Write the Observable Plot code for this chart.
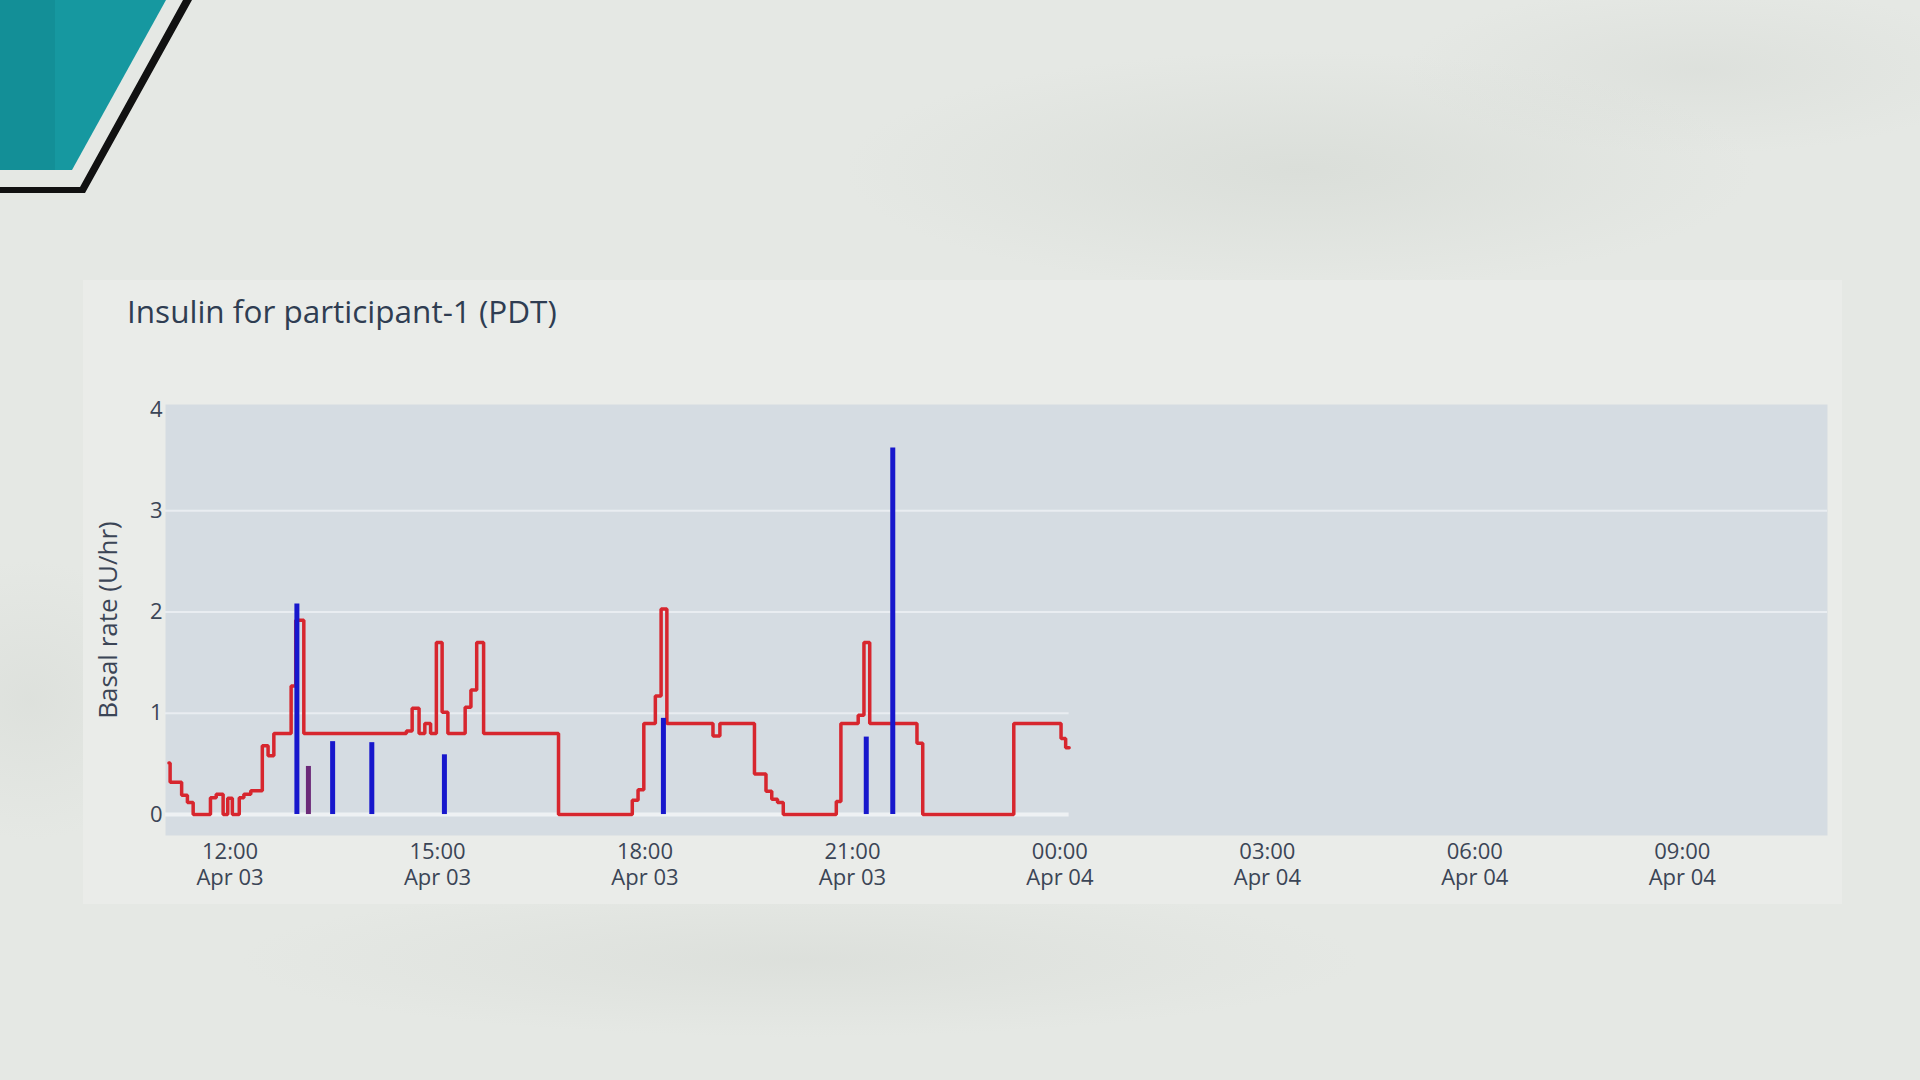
<!DOCTYPE html>
<html>
<head>
<meta charset="utf-8">
<script src="https://cdn.jsdelivr.net/npm/d3@7"></script>
<script src="https://cdn.jsdelivr.net/npm/@observablehq/plot@0.6"></script>
<style>
  html, body { margin: 0; padding: 0; }
  body {
    width: 1920px; height: 1080px; overflow: hidden; position: relative;
    background:
      radial-gradient(ellipse 650px 170px at 1300px 170px, rgba(208,213,207,0.5), rgba(208,213,207,0) 70%),
      radial-gradient(ellipse 420px 120px at 1700px 70px, rgba(212,216,211,0.45), rgba(212,216,211,0) 70%),
      radial-gradient(ellipse 800px 110px at 800px 960px, rgba(210,214,209,0.45), rgba(210,214,209,0) 70%),
      radial-gradient(ellipse 200px 200px at 30px 700px, rgba(212,216,211,0.45), rgba(212,216,211,0) 70%),
      #e5e8e4;
    font-family: "Open Sans", sans-serif;
  }
  .teal { position: absolute; left: 0; top: 0; width: 200px; height: 200px; background: linear-gradient(90deg, #138f97 0 55px, #1698a0 55px);
    clip-path: polygon(0 0, 166px 0, 72px 170px, 0 170px); }
  .band { position: absolute; left: 0; top: 0; width: 200px; height: 200px; background: #111;
    clip-path: polygon(183px 0, 192px 0, 85px 193px, 0 193px, 0 187px, 80px 187px); }
  .card { position: absolute; left: 83px; top: 280px; width: 1759px; height: 624px; background: #eaece9; }
  .title { position: absolute; left: 127px; top: 295px; font-size: 31.5px; line-height: 31.5px; color: #2f3d52; white-space: nowrap; }
  #chart { position: absolute; left: 83px; top: 344px; }
</style>
</head>
<body>
<div class="teal"></div>
<div class="band"></div>
<div class="card"></div>
<div class="title">Insulin for participant-1 (PDT)</div>
<div id="chart"></div>
<script>
// ---- data ----
const basalTimes = [
  "04-03 11:07","04-03 11:08","04-03 11:18","04-03 11:23","04-03 11:28","04-03 11:43","04-03 11:48",
  "04-03 11:54","04-03 11:58","04-03 12:02","04-03 12:08","04-03 12:12","04-03 12:18","04-03 12:28",
  "04-03 12:33","04-03 12:38","04-03 12:53","04-03 12:57","04-03 13:04","04-03 14:33","04-03 14:38",
  "04-03 14:44","04-03 14:49","04-03 14:54","04-03 14:59","04-03 15:04","04-03 15:09","04-03 15:24",
  "04-03 15:29","04-03 15:34","04-03 15:40","04-03 16:45","04-03 17:49","04-03 17:54","04-03 17:59",
  "04-03 18:09","04-03 18:14","04-03 18:19","04-03 18:59","04-03 19:05","04-03 19:35","04-03 19:45",
  "04-03 19:50","04-03 19:55","04-03 20:00","04-03 20:46","04-03 20:50","04-03 21:05","04-03 21:10",
  "04-03 21:15","04-03 21:56","04-03 22:01","04-03 23:20","04-04 00:01","04-04 00:05","04-04 00:08"
];
const basalRates = [
  0.51,0.32,0.19,0.12,0.00,0.165,0.20,
  0.00,0.16,0.00,0.165,0.20,0.235,0.68,
  0.58,0.80,1.27,1.92,0.80,0.825,1.05,
  0.80,0.90,0.80,1.70,1.01,0.80,1.06,
  1.23,1.70,0.80,0.00,0.14,0.245,0.90,
  1.17,2.03,0.90,0.775,0.90,0.40,0.23,
  0.15,0.12,0.00,0.13,0.90,0.98,1.70,
  0.90,0.705,0.00,0.90,0.75,0.66,0.66
];
const bolusTimes = ["04-03 12:58","04-03 13:08","04-03 13:29","04-03 14:03","04-03 15:06","04-03 18:16","04-03 21:12","04-03 21:35"];
const bolusUnits = [2.08, 0.475, 0.72, 0.71, 0.59, 0.95, 0.765, 3.62];
const bolusKinds = ["normal","combo","normal","normal","normal","normal","normal","normal"];
const xTickTimes = ["04-03 12:00","04-03 15:00","04-03 18:00","04-03 21:00","04-04 00:00","04-04 03:00","04-04 06:00","04-04 09:00"];
const yTicks = [0, 1, 2, 3, 4];
const xRange = ["04-03 11:04","04-04 11:06"];
const yRange = [-0.207, 4.05];
const yLabel = "Basal rate (U/hr)";

// ---- build ----
const parse = d3.utcParse("%Y-%m-%d %H:%M");
const t = s => parse("2023-" + s);
const basal = basalTimes.map((s, i) => ({time: t(s), rate: basalRates[i]}));
const bolus = bolusTimes.map((s, i) => ({time: t(s), units: bolusUnits[i], kind: bolusKinds[i]}));
const xStart = t(xRange[0]), xEnd = t(xRange[1]);
const dataEnd = basal[basal.length - 1].time;
const xt = xTickTimes.map(t);

const chart = Plot.plot({
  width: 1759, height: 560,
  marginLeft: 82, marginRight: 15, marginTop: 60, marginBottom: 69,
  style: {fontFamily: "Open Sans", background: "transparent", color: "#3b4556", overflow: "visible"},
  x: {type: "utc", domain: [xStart, xEnd]},
  y: {domain: yRange},
  color: {domain: ["normal", "combo"], range: ["#1717cc", "#6b2a78"]},
  marks: [
    Plot.frame({fill: "#d5dce2", stroke: "none"}),
    Plot.ruleY([2, 3], {stroke: "#e9edf1", strokeWidth: 2}),
    Plot.ruleY([1], {x1: xStart, x2: dataEnd, stroke: "#e9edf1", strokeWidth: 2}),
    Plot.ruleY([0], {x1: xStart, x2: dataEnd, stroke: "#eef1f3", strokeWidth: 4}),
    Plot.line(basal, {x: "time", y: "rate", curve: "step-after", stroke: "#d7262e", strokeWidth: 3.5, strokeLinejoin: "miter"}),
    Plot.ruleX(bolus, {x: "time", y1: 0, y2: "units", stroke: "kind", strokeWidth: 5}),
    Plot.axisY({ticks: yTicks, tickFormat: d3.format("d"), tickSize: 0, tickPadding: 3, fontSize: 22, label: null}),
    Plot.axisX({ticks: xt, tickFormat: d3.utcFormat("%H:%M"), tickSize: 0, tickPadding: 7.5, fontSize: 22, label: null}),
    Plot.axisX({ticks: xt, tickFormat: d3.utcFormat("%b %d"), tickSize: 0, tickPadding: 34, fontSize: 22, label: null}),
    Plot.text([yLabel], {frameAnchor: "left", textAnchor: "middle", rotate: -90, dx: -57, fontSize: 26, fill: "#3b4556"})
  ]
});
document.getElementById("chart").append(chart);
</script>
</body>
</html>
